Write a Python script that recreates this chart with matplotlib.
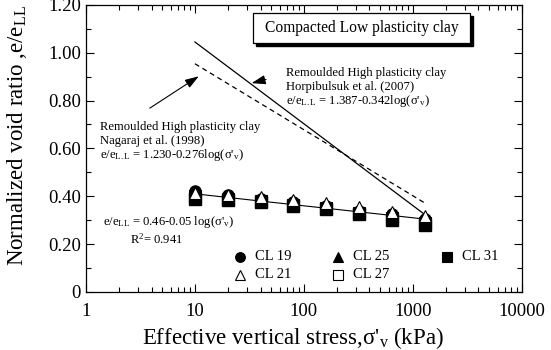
import numpy as np
import matplotlib as mpl
mpl.use('Agg')
from matplotlib import pyplot as plt
from matplotlib.patches import Rectangle

mpl.rcParams['font.family'] = ['Liberation Serif', 'DejaVu Serif']
mpl.rcParams['mathtext.fontset'] = 'custom'
mpl.rcParams['mathtext.rm'] = 'Liberation Serif'
mpl.rcParams['mathtext.it'] = 'Liberation Serif:italic'

# data
stress = [10, 20, 40, 80, 160, 320, 640, 1280]
cl19 = [0.42, 0.405, 0.39, 0.375, 0.36, 0.34, 0.325, 0.305]
cl21 = [0.415, 0.405, 0.395, 0.385, 0.37, 0.355, 0.335, 0.318]
cl25 = [0.40, 0.392, 0.385, 0.37, 0.355, 0.338, 0.32, 0.30]
cl27 = [0.40, 0.39, 0.38, 0.365, 0.35, 0.33, 0.31, 0.29]
cl31 = [0.39, 0.385, 0.375, 0.36, 0.345, 0.325, 0.30, 0.28]
fit_a, fit_b = 0.46, 0.05
nag_a, nag_b = 1.230, 0.276
hor_a, hor_b = 1.387, 0.342
line_x = [10, 1280]

fig = plt.figure(figsize=(5.51, 3.5), dpi=100)
ax = fig.add_axes([0.156, 0.166, 0.791, 0.820])

lx = np.array(line_x, dtype=float)
ax.plot(lx, fit_a - fit_b*np.log10(lx), color='k', lw=0.8, zorder=2)
ax.plot(lx, hor_a - hor_b*np.log10(lx), color='k', lw=0.9)
ax.plot(lx, nag_a - nag_b*np.log10(lx), color='k', lw=0.9, ls=(0, (4, 3)))

ms = 8
ax.plot(stress, cl27, 's', ms=ms, mfc='white', mec='k', mew=0.8, ls='none', zorder=3)
ax.plot(stress, cl19, 'o', ms=ms, color='k', ls='none', zorder=3)
ax.plot(stress, cl25, '^', ms=ms, color='k', ls='none', zorder=3)
ax.plot(stress, cl31, 's', ms=ms, color='k', ls='none', zorder=3)
ax.plot(stress, cl21, '^', ms=ms, mfc='white', mec='k', mew=0.8, ls='none', zorder=4)

ax.set_xscale('log')
ax.set_xlim(1, 10000)
ax.set_ylim(0, 1.2)
ax.set_xticks([1, 10, 100, 1000, 10000])
ax.set_xticklabels(['1', '10', '100', '1000', '10000'])
ax.set_yticks([0, 0.2, 0.4, 0.6, 0.8, 1.0, 1.2])
ax.set_yticklabels(['0', '0.20', '0.40', '0.60', '0.80', '1.00', '1.20'])
ax.set_yticks(np.arange(0.1, 1.2, 0.2), minor=True)
ax.tick_params(which='both', direction='in', top=True, right=True, labelsize=13.5)
ax.tick_params(which='major', length=6, width=0.8)
ax.tick_params(which='minor', length=3.5, width=0.8)
ax.tick_params(axis='x', pad=8)
for s in ax.spines.values():
    s.set_linewidth(0.9)

ax.set_xlabel("Effective vertical stress,σ'$_{\\rm v}$ (kPa)", fontsize=16.5)
ax.set_ylabel("Normalized void ratio ,e/e$_{\\rm LL}$", fontsize=16.5)
ax.xaxis.set_label_coords(0.475, -0.115)
ax.yaxis.set_label_coords(-0.13, 0.545)

# title box with shadow
ax.add_patch(Rectangle((0.390, 0.858), 0.498, 0.104, transform=ax.transAxes,
                       facecolor='k', edgecolor='k', zorder=5))
ax.add_patch(Rectangle((0.383, 0.868), 0.498, 0.104, transform=ax.transAxes,
                       facecolor='white', edgecolor='k', lw=0.9, zorder=6))
ax.text(0.632, 0.920, 'Compacted Low plasticity clay', transform=ax.transAxes,
        ha='center', va='center', fontsize=11.2, zorder=7)

fs = 9.1
ax.text(69, 0.916, 'Remoulded High plasticity clay', fontsize=fs, va='center')
ax.text(69, 0.858, 'Horpibulsuk et al. (2007)', fontsize=fs, va='center')
ax.text(69, 0.799, "e/e$_{\\rm L.L}$ = 1.387-0.342log(σ'$_{\\rm v}$)", fontsize=fs, va='center')

ax.text(1.34, 0.690, 'Remoulded High plasticity clay', fontsize=fs, va='center')
ax.text(1.34, 0.632, 'Nagaraj et al. (1998)', fontsize=fs, va='center')
ax.text(1.34, 0.573, "e/e$_{\\rm L.L}$ = 1.230-0.276log(σ'$_{\\rm v}$)", fontsize=fs, va='center')

ax.text(1.43, 0.293, "e/e$_{\\rm LL}$ = 0.46-0.05 log(σ'$_{\\rm v}$)", fontsize=fs, va='center')
ax.text(2.52, 0.218, 'R$^2$= 0.941', fontsize=fs, va='center')

ax.annotate('', xy=(11.4, 0.908), xytext=(3.67, 0.762),
            arrowprops=dict(arrowstyle='-|>,head_length=0.6,head_width=0.2',
                            color='k', lw=0.8, mutation_scale=14))
ax.annotate('', xy=(31.3, 0.870), xytext=(47.6, 0.891),
            arrowprops=dict(arrowstyle='-|>,head_length=0.6,head_width=0.2',
                            color='k', lw=0.8, mutation_scale=14))

# legend
leg = [('o', 'k', 'CL 19', 0.353, 0.122),
       ('^', 'white', 'CL 21', 0.353, 0.059),
       ('^', 'k', 'CL 25', 0.578, 0.122),
       ('s', 'white', 'CL 27', 0.578, 0.059),
       ('s', 'k', 'CL 31', 0.828, 0.122)]
for m, fc, lab, xa, ya in leg:
    ax.plot([xa], [ya], m, ms=7, mfc=fc, mec='k', mew=0.8, transform=ax.transAxes,
            clip_on=False)
    ax.text(xa + 0.034, ya, lab, transform=ax.transAxes, fontsize=10.5, va='center')

fig.savefig('out.png', dpi=100)
